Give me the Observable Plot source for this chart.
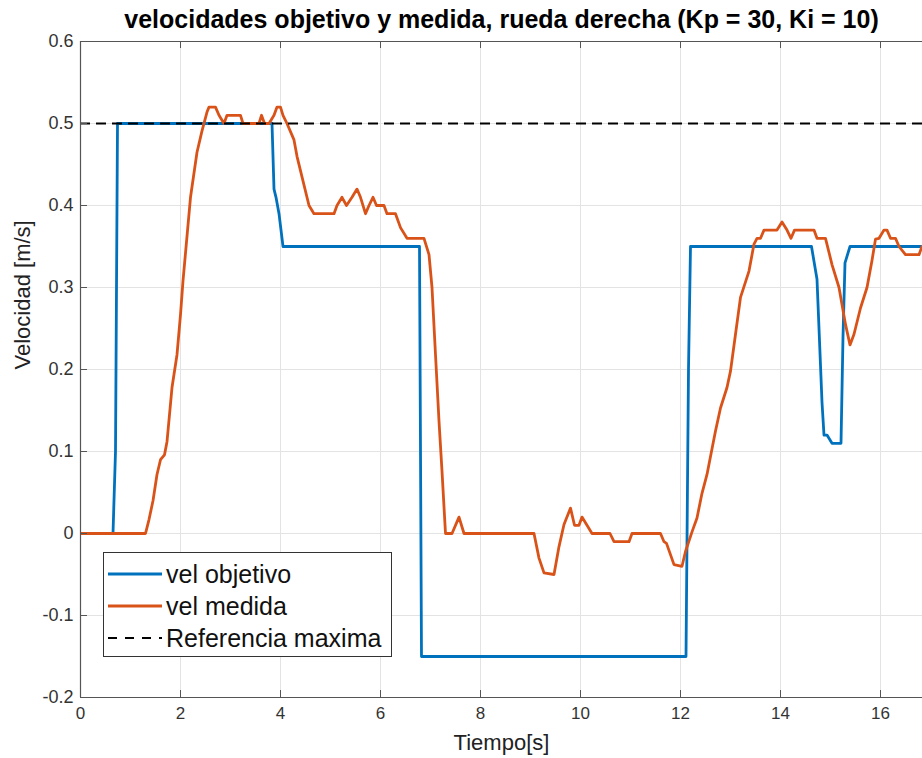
<!DOCTYPE html>
<html>
<head>
<meta charset="utf-8">
<script src="https://cdn.jsdelivr.net/npm/d3@7"></script>
<script src="https://cdn.jsdelivr.net/npm/@observablehq/plot@0.6"></script>
<style>
  body { margin: 0; background: #fff; }
  #fig { position: relative; width: 922px; height: 758px; overflow: hidden; font-family: "Liberation Sans", Arial, sans-serif; }
  #legend { position: absolute; left: 103px; top: 552px; width: 289px; height: 105px; border: 1px solid #333; background: #fff; box-sizing: border-box; }
  .row { position: absolute; left: 4px; height: 32px; display: flex; align-items: center; font-size: 25px; color: #111; white-space: nowrap; }
  .row svg { margin-right: 4px; }
</style>
</head>
<body>
<div id="fig"></div>
<script>
// Time axis (s) and target wheel speed (m/s)
const tObjetivo = [0, 0.65, 0.70, 0.74, 3.83, 3.87, 3.91, 3.97, 4.05, 6.78, 6.82, 12.11, 12.16, 12.2, 14.62, 14.73, 14.83, 14.87, 14.93, 15.03, 15.21, 15.25, 15.29, 15.39, 16.9];
const vObjetivo = [0, 0, 0.1, 0.5, 0.5, 0.42, 0.41, 0.39, 0.35, 0.35, -0.15, -0.15, 0.2, 0.35, 0.35, 0.31, 0.16, 0.12, 0.12, 0.11, 0.11, 0.24, 0.33, 0.35, 0.35];

// Measured wheel speed (m/s)
const tMedida = [0, 1.3, 1.37, 1.45, 1.53, 1.6, 1.68, 1.73, 1.83, 1.93, 2.0, 2.05, 2.2, 2.33, 2.43, 2.53, 2.57, 2.7, 2.77, 2.87, 2.93, 3.2, 3.25, 3.57, 3.62, 3.68, 3.77, 3.87, 3.93, 4.0, 4.05, 4.13, 4.27, 4.33, 4.43, 4.57, 4.67, 5.07, 5.13, 5.23, 5.32, 5.43, 5.53, 5.6, 5.7, 5.77, 5.85, 5.92, 6.07, 6.13, 6.3, 6.4, 6.53, 6.87, 6.97, 7.03, 7.1, 7.17, 7.23, 7.3, 7.43, 7.57, 7.67, 9.07, 9.17, 9.27, 9.47, 9.57, 9.67, 9.8, 9.88, 9.97, 10.03, 10.13, 10.23, 10.59, 10.67, 10.97, 11.03, 11.6, 11.67, 11.72, 11.87, 12.03, 12.1, 12.23, 12.33, 12.43, 12.53, 12.6, 12.7, 12.8, 12.93, 13.0, 13.1, 13.2, 13.37, 13.47, 13.53, 13.6, 13.67, 13.93, 14.03, 14.13, 14.21, 14.28, 14.67, 14.73, 14.9, 15.03, 15.17, 15.3, 15.39, 15.47, 15.6, 15.73, 15.83, 15.9, 15.97, 16.07, 16.13, 16.2, 16.3, 16.37, 16.5, 16.77, 16.83, 16.9];
const vMedida = [0, 0, 0.017, 0.04, 0.072, 0.09, 0.096, 0.112, 0.178, 0.218, 0.267, 0.308, 0.41, 0.465, 0.491, 0.514, 0.52, 0.52, 0.51, 0.5, 0.51, 0.51, 0.5, 0.5, 0.51, 0.5, 0.5, 0.51, 0.52, 0.52, 0.51, 0.5, 0.48, 0.46, 0.435, 0.4, 0.39, 0.39, 0.4, 0.41, 0.4, 0.41, 0.42, 0.41, 0.39, 0.4, 0.41, 0.4, 0.4, 0.39, 0.39, 0.373, 0.36, 0.36, 0.34, 0.3, 0.218, 0.137, 0.076, 0, 0, 0.02, 0, 0, -0.03, -0.048, -0.05, -0.016, 0.011, 0.031, 0.01, 0.01, 0.02, 0.01, 0, 0, -0.01, -0.01, 0, 0, -0.01, -0.012, -0.038, -0.04, -0.022, 0.002, 0.019, 0.049, 0.072, 0.094, 0.125, 0.153, 0.178, 0.198, 0.243, 0.288, 0.32, 0.353, 0.36, 0.36, 0.37, 0.37, 0.38, 0.37, 0.36, 0.37, 0.37, 0.36, 0.36, 0.328, 0.3, 0.255, 0.23, 0.243, 0.275, 0.3, 0.333, 0.359, 0.36, 0.37, 0.37, 0.36, 0.36, 0.35, 0.34, 0.34, 0.35, 0.35];

// Maximum reference speed (m/s)
const referenciaMaxima = [0.5];

// Axis ticks and labels
const xTicks = [0, 2, 4, 6, 8, 10, 12, 14, 16];
const yTicks = [-0.2, -0.1, 0, 0.1, 0.2, 0.3, 0.4, 0.5, 0.6];
const yTickLabels = ["-0.2", "-0.1", "0", "0.1", "0.2", "0.3", "0.4", "0.5", "0.6"];
const titulo = "velocidades objetivo y medida, rueda derecha (Kp = 30, Ki = 10)";
const etiquetaX = "Tiempo[s]";
const etiquetaY = "Velocidad [m/s]";
const series = ["vel objetivo", "vel medida", "Referencia maxima"];

const AZUL = "#0072BD", NARANJA = "#D95319";

const objetivo = tObjetivo.map((t, i) => ({t, v: vObjetivo[i]}));
const medida = tMedida.map((t, i) => ({t, v: vMedida[i]}));

const W = 922, H = 758, mT = 41, mB = 61, mL = 80, mR = 0;
const innerW = W - mL - mR, innerH = H - mT - mB;
const axisColor = "#555";

const chart = Plot.plot({
  width: W, height: H,
  marginTop: mT, marginBottom: mB, marginLeft: mL, marginRight: mR,
  style: {fontFamily: "Liberation Sans, Arial, sans-serif", background: "#fff", overflow: "visible"},
  x: {domain: [0, 16.84], axis: null, label: null},
  y: {domain: [-0.2, 0.6], axis: null, label: null},
  marks: [
    Plot.gridX(xTicks, {stroke: "#e3e3e3", strokeOpacity: 1}),
    Plot.gridY(yTicks, {stroke: "#e3e3e3", strokeOpacity: 1}),
    Plot.line(objetivo, {x: "t", y: "v", stroke: AZUL, strokeWidth: 2.8, clip: true}),
    Plot.line(medida, {x: "t", y: "v", stroke: NARANJA, strokeWidth: 2.8, clip: true}),
    Plot.ruleY(referenciaMaxima, {stroke: "#000", strokeWidth: 2, strokeDasharray: "10,6"}),
    // box edges
    Plot.ruleX([0], {stroke: axisColor, strokeWidth: 1.2}),
    Plot.ruleY([-0.2], {stroke: axisColor, strokeWidth: 1.2}),
    Plot.ruleY([0.6], {stroke: axisColor, strokeWidth: 1.2}),
    // inward tick marks
    Plot.tickX(xTicks, {x: d => d, stroke: axisColor, insetTop: innerH - 7}),
    Plot.tickX(xTicks, {x: d => d, stroke: axisColor, insetBottom: innerH - 7}),
    Plot.tickY(yTicks, {y: d => d, stroke: axisColor, insetRight: innerW - 7}),
    // tick labels
    Plot.axisX(xTicks, {anchor: "bottom", label: null, tickSize: 0, tickPadding: 9, fontSize: 17, fill: "#333", tickFormat: d => String(d)}),
    Plot.axisY(yTicks, {anchor: "left", label: null, tickSize: 0, tickPadding: 7, fontSize: 18, fill: "#333", tickFormat: (d, i) => yTickLabels[i]}),
    // labels and title
    Plot.text([etiquetaX], {frameAnchor: "bottom", dy: 52, fontSize: 22, fill: "#222", text: d => d}),
    Plot.text([etiquetaY], {frameAnchor: "left", dx: -58, rotate: -90, fontSize: 22, fill: "#222", text: d => d}),
    Plot.text([titulo], {frameAnchor: "top", dy: -31, fontSize: 25, fontWeight: "bold", fill: "#000", text: d => d})
  ]
});

const fig = document.getElementById("fig");
fig.appendChild(chart);

// Legend
const legend = document.createElement("div");
legend.id = "legend";
const estilos = [
  {stroke: AZUL, dash: null},
  {stroke: NARANJA, dash: null},
  {stroke: "#000", dash: "9,8"}
];
series.forEach((name, i) => {
  const row = document.createElement("div");
  row.className = "row";
  row.style.top = (5 + i * 32) + "px";
  const s = estilos[i];
  row.innerHTML = `<svg width="54" height="10"><line x1="0" x2="54" y1="5" y2="5" stroke="${s.stroke}" stroke-width="${s.dash ? 2 : 2.8}" ${s.dash ? `stroke-dasharray="${s.dash}"` : ""}/></svg><span>${name}</span>`;
  legend.appendChild(row);
});
fig.appendChild(legend);
</script>
</body>
</html>
